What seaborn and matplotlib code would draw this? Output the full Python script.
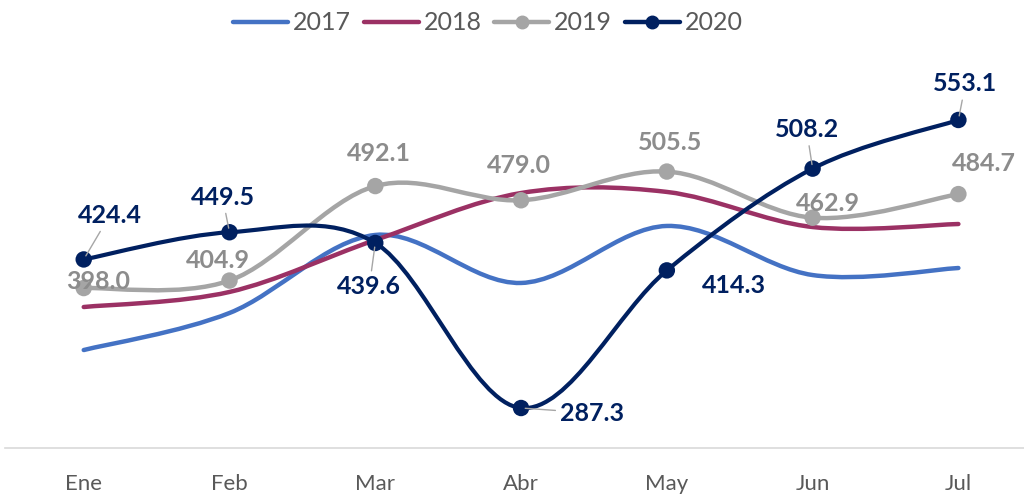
import numpy as np
import pandas as pd
import matplotlib
matplotlib.use("Agg")
import matplotlib.pyplot as plt
import seaborn as sns
from matplotlib.path import Path
from matplotlib.patches import PathPatch
from matplotlib.lines import Line2D

# datos por mes (valores de 2017 y 2018 estimados, sin etiqueta en el original)
meses = ['Ene', 'Feb', 'Mar', 'Abr', 'May', 'Jun', 'Jul']
v2017 = [340.8, 375.0, 447.0, 402.7, 455.3, 410.0, 416.5]
v2018 = [380.5, 394.4, 442.3, 485.7, 486.7, 454.3, 457.1]
v2019 = [398.0, 404.9, 492.1, 479.0, 505.5, 462.9, 484.7]
v2020 = [424.4, 449.5, 439.6, 287.3, 414.3, 508.2, 553.1]

colores = {'2017': '#4472C4', '2018': '#9B3164', '2019': '#A5A5A5', '2020': '#002060'}
series = {'2017': v2017, '2018': v2018, '2019': v2019, '2020': v2020}

# desplazamiento de etiquetas en pixeles (dx, dy) respecto al punto
off2019 = [(14, 7), (-12, 20), (4, 33), (-2, 35), (3, 29), (15, 14), (26, 31)]
off2020 = [(26, 44), (-7, 35), (-6, -44), (71, -5), (67, -15), (-6, 39), (7, 36)]
guia2020 = [True, True, True, True, False, True, True]

sns.set_theme(style="white")
plt.rcParams['font.family'] = ['Lato', 'DejaVu Sans']

fig = plt.figure(figsize=(10.24, 4.95), dpi=100)
ax = fig.add_axes([5 / 1024, 47 / 495, 1019 / 1024, 408 / 495])
x = np.arange(len(meses))


def curva_suave(xs, ys):
    # curva tipo "línea suavizada" de Excel con beziers cúbicas
    pts = np.column_stack([xs, ys]).astype(float)
    verts = [pts[0]]
    codes = [Path.MOVETO]
    n = len(pts)
    for i in range(n - 1):
        p0 = pts[i - 1] if i > 0 else pts[i]
        p1 = pts[i]
        p2 = pts[i + 1]
        p3 = pts[i + 2] if i + 2 < n else pts[i + 1]
        c1 = p1 + (p2 - p0) / 6
        c2 = p2 - (p3 - p1) / 6
        verts += [c1, c2, p2]
        codes += [Path.CURVE4] * 3
    return Path(verts, codes)


for anio in ['2017', '2018', '2019', '2020']:
    lw = 3.2 if anio != '2020' else 3.0
    ax.add_patch(PathPatch(curva_suave(x, series[anio]), fill=False,
                           edgecolor=colores[anio], lw=lw, capstyle='round', zorder=2))

df = pd.DataFrame({'mes': np.tile(x, 2), 'valor': v2019 + v2020,
                   'anio': ['2019'] * 7 + ['2020'] * 7})
sns.scatterplot(data=df, x='mes', y='valor', hue='anio', palette=colores,
                s=140, edgecolor='none', legend=False, zorder=3, ax=ax)

for i in range(len(meses)):
    ax.annotate(f'{v2019[i]:.1f}', (x[i], v2019[i]), xytext=off2019[i],
                textcoords='offset pixels', ha='center', va='center',
                fontsize=18, fontweight='bold', color='#8C8C8C', zorder=4)
    props = dict(arrowstyle='-', color='#A6A6A6', lw=1, shrinkA=1, shrinkB=3) if guia2020[i] else None
    ax.annotate(f'{v2020[i]:.1f}', (x[i], v2020[i]), xytext=off2020[i],
                textcoords='offset pixels', ha='center', va='center',
                fontsize=18, fontweight='bold', color='#002060',
                arrowprops=props, zorder=4)

ax.set_xlim(-0.54, 6.45)
ax.set_ylim(250.4, 626.9)
ax.set_xticks(x)
ax.set_xticklabels(meses)
ax.set_yticks([])
ax.set_xlabel('')
ax.set_ylabel('')
ax.tick_params(axis='x', length=0, pad=19, labelsize=16, labelcolor='#595959')
for lado in ['top', 'right', 'left']:
    ax.spines[lado].set_visible(False)
ax.spines['bottom'].set_color('#D9D9D9')
ax.spines['bottom'].set_linewidth(1.2)

handles = [Line2D([], [], color=colores['2017'], lw=3.2),
           Line2D([], [], color=colores['2018'], lw=3.2),
           Line2D([], [], color=colores['2019'], lw=3.2, marker='o', ms=9),
           Line2D([], [], color=colores['2020'], lw=3.2, marker='o', ms=9)]
fig.legend(handles, ['2017', '2018', '2019', '2020'], loc='center',
           bbox_to_anchor=(488 / 1024, 1 - 23 / 495), ncol=4, frameon=False,
           fontsize=18, labelcolor='#595959', handlelength=2.2, handletextpad=0.2,
           columnspacing=0.5)

fig.savefig('out.png', dpi=100)
